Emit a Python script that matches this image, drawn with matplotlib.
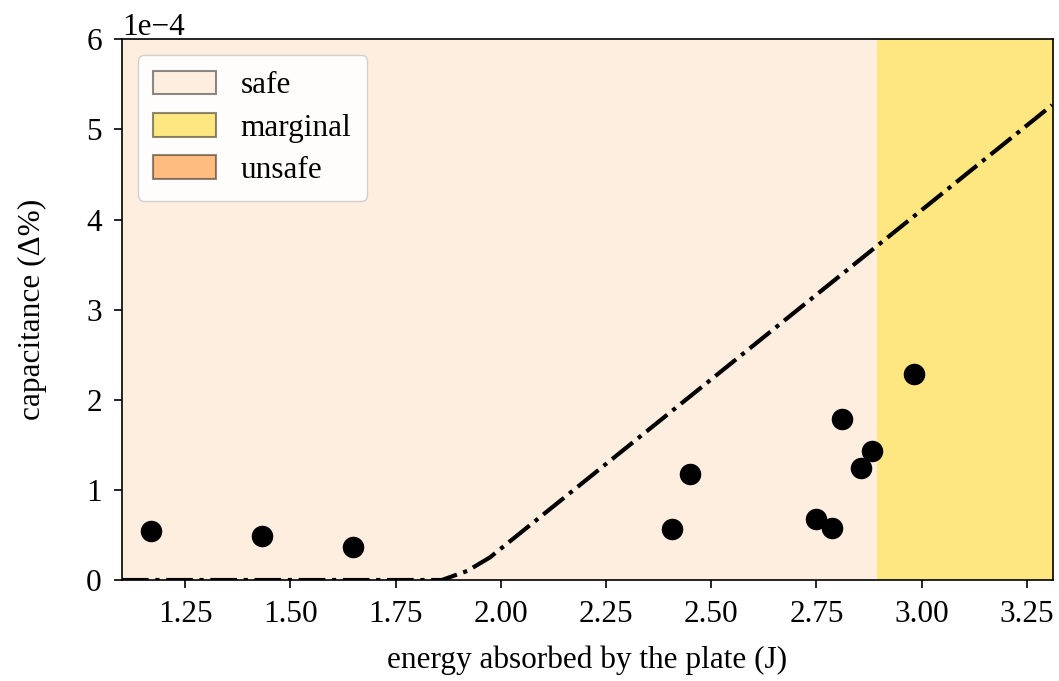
import numpy as np
import matplotlib.pyplot as plt
from matplotlib.patches import Patch
from matplotlib.ticker import ScalarFormatter

plt.rcParams['font.family'] = ['Liberation Serif', 'DejaVu Serif']
plt.rcParams['font.size'] = 22.5
plt.rcParams['mathtext.fontset'] = 'stix'

# measured points
energy = [1.169, 1.433, 1.650, 2.407, 2.450, 2.748, 2.786, 2.810, 2.857, 2.883, 2.981]
capacitance = [0.544e-4, 0.488e-4, 0.366e-4, 0.566e-4, 1.176e-4, 0.677e-4,
               0.577e-4, 1.787e-4, 1.243e-4, 1.432e-4, 2.286e-4]

# threshold curve
curve_x = [1.10, 1.86, 1.92, 1.974, 3.31]
curve_y = [0.0, 0.0, 0.10e-4, 0.25e-4, 5.27e-4]

# zones
x_min, x_max = 1.10, 3.312
marginal_start = 2.894
zone_labels = ['safe', 'marginal', 'unsafe']
zone_colors = ['#FDEEE0', '#FEE680', '#FFBC80']

fig = plt.figure(figsize=(10.59, 6.81), dpi=100)
ax = fig.add_axes([0.1152, 0.1483, 0.8791, 0.794])

ax.axvspan(x_min, marginal_start, color=zone_colors[0], lw=0, zorder=0)
ax.axvspan(marginal_start, x_max, color=zone_colors[1], lw=0, zorder=0)

ax.plot(curve_x, curve_y, color='black', linestyle='-.', linewidth=3, zorder=3)
ax.scatter(energy, capacitance, s=210, color='black', zorder=4)

ax.set_xlim(x_min, x_max)
ax.set_ylim(0, 6e-4)
ax.set_xticks([1.25, 1.50, 1.75, 2.00, 2.25, 2.50, 2.75, 3.00, 3.25])
ax.set_yticks(np.arange(0, 7) * 1e-4)
fmt = ScalarFormatter()
fmt.set_powerlimits((0, 0))
ax.yaxis.set_major_formatter(fmt)

ax.set_xlabel('energy absorbed by the plate (J)', labelpad=12)
ax.set_ylabel('capacitance (Δ%)', labelpad=28)
ax.tick_params(length=6, width=1.2, pad=8.5)
for s in ax.spines.values():
    s.set_linewidth(1.2)

handles = [Patch(facecolor=c, edgecolor=(0, 0, 0, 0.45), linewidth=1.5, label=l)
           for c, l in zip(zone_colors, zone_labels)]
ax.legend(handles=handles, loc='upper left', fontsize=22.5, framealpha=0.9,
          handlelength=2.0, handleheight=0.8, borderpad=0.5, labelspacing=0.4)

plt.savefig('out.png', dpi=100)
